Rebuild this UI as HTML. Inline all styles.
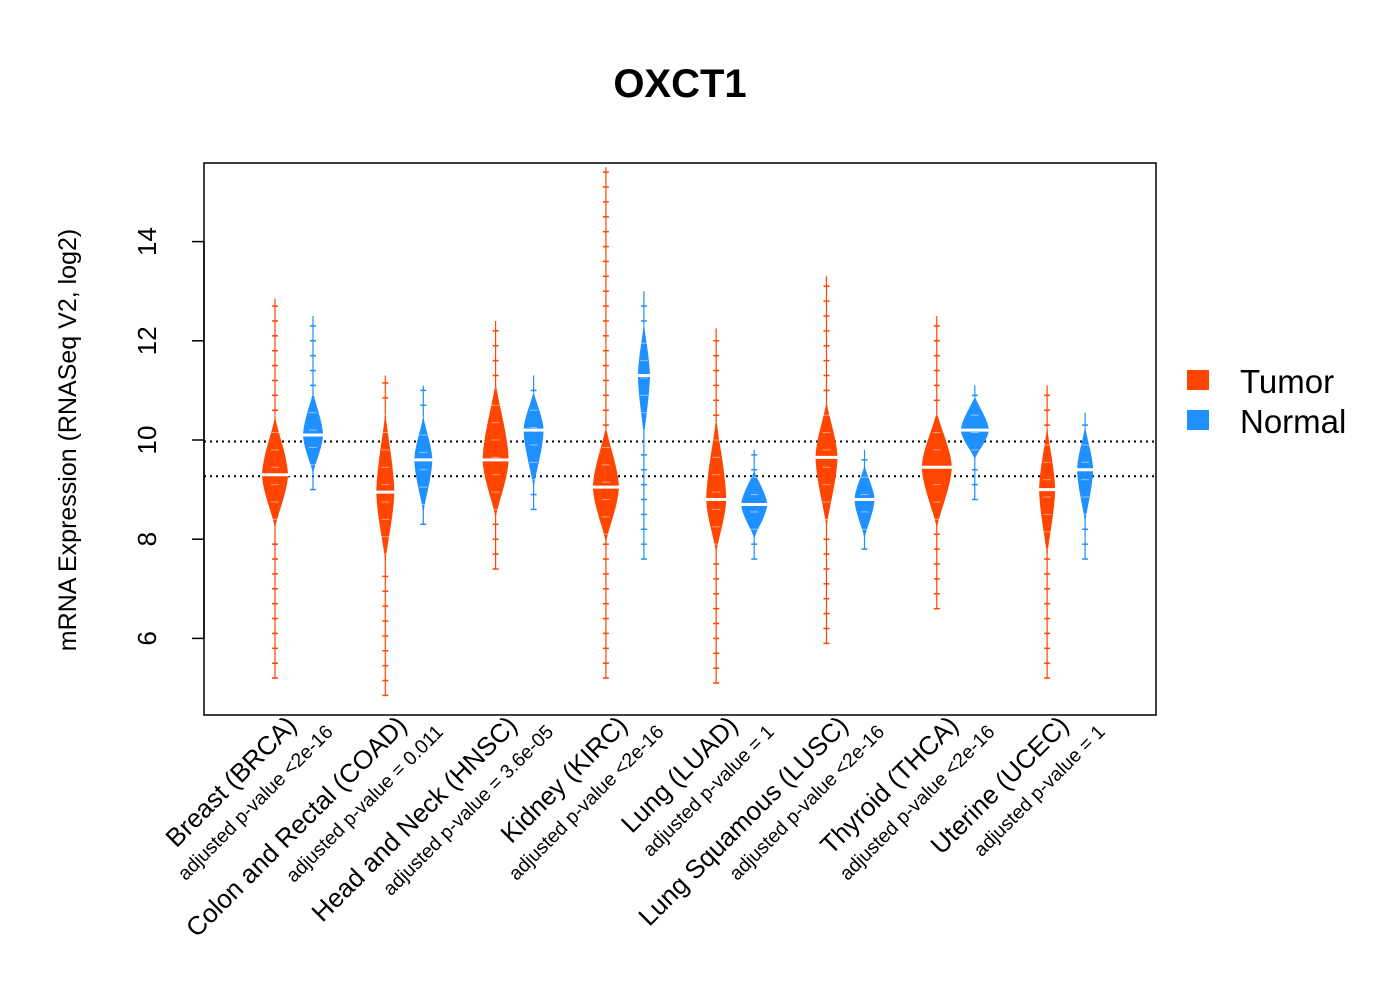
<!DOCTYPE html>
<html><head><meta charset="utf-8"><style>
body{margin:0;background:#fff}
svg{display:block;font-family:"Liberation Sans",Arial,sans-serif}
</style></head><body>
<svg id="chart" width="1400" height="1000">
<text x="680" y="97" text-anchor="middle" font-size="40" font-weight="bold">OXCT1</text>
<rect x="204" y="163" width="952" height="552" fill="none" stroke="#000" stroke-width="1.5"/>
<text transform="translate(76,440) rotate(-90)" text-anchor="middle" font-size="25">mRNA Expression (RNASeq V2, log2)</text>
<g id="yaxis"></g>
<g id="marks"></g>
<g id="xlabels"></g>
<g>
<rect x="1187" y="370" width="22" height="20" fill="#ff4500"/>
<text x="1240" y="393" font-size="33">Tumor</text>
<rect x="1187" y="410" width="22" height="20" fill="#1e90ff"/>
<text x="1240" y="433" font-size="33">Normal</text>
</g>
</svg>
<script>
const categories=["Breast (BRCA)","Colon and Rectal (COAD)","Head and Neck (HNSC)","Kidney (KIRC)","Lung (LUAD)","Lung Squamous (LUSC)","Thyroid (THCA)","Uterine (UCEC)"];
const pvalues=["adjusted p-value <2e-16","adjusted p-value = 0.011","adjusted p-value = 3.6e-05","adjusted p-value <2e-16","adjusted p-value = 1","adjusted p-value <2e-16","adjusted p-value <2e-16","adjusted p-value = 1"];
const tumorMin=[5.2,4.85,7.4,5.2,5.1,5.9,6.6,5.2];
const tumorMax=[12.85,11.3,12.4,15.5,12.25,13.3,12.5,11.1];
const tumorLo=[8.2,7.5,8.4,7.9,7.7,8.2,8.2,7.6];
const tumorHi=[10.5,10.6,11.2,10.3,10.5,10.8,10.6,10.3];
const tumorMed=[9.3,8.95,9.6,9.05,8.8,9.65,9.45,9.0];
const tumorWidth=[13,9,13,13,10,11,15,8];
const normalMin=[9.0,8.3,8.6,7.6,7.6,7.8,8.8,7.6];
const normalMax=[12.5,11.1,11.3,13.0,9.8,9.8,11.1,10.55];
const normalLo=[9.3,8.5,9.0,10.0,8.0,8.0,9.6,8.3];
const normalHi=[11.0,10.5,11.0,12.4,9.4,9.5,10.9,10.3];
const normalMed=[10.1,9.6,10.2,11.3,8.7,8.8,10.2,9.4];
const normalWidth=[10,9,10,6,13,10,14,8];
const refLines=[9.97,9.27];
const yTicks=[6,8,10,12,14];

const NS="http://www.w3.org/2000/svg";
const y=v=>440-(v-10)*49.6;
const xg=i=>294+i*110.3;
function mk(tag,attrs,parent){const e=document.createElementNS(NS,tag);for(const k in attrs)e.setAttribute(k,attrs[k]);parent.appendChild(e);return e;}
const yax=document.getElementById('yaxis'),marks=document.getElementById('marks'),xl=document.getElementById('xlabels');
mk('line',{x1:204,x2:204,y1:y(yTicks[0]),y2:y(yTicks[yTicks.length-1]),stroke:'#000','stroke-width':1.5},yax);
yTicks.forEach(t=>{
  const l=mk('line',{x1:192,x2:204,y1:y(t),y2:y(t),stroke:'#000','stroke-width':1.5},yax);
  
  
  const tx=mk('text',{transform:`translate(156,${y(t)}) rotate(-90)`,'text-anchor':'middle','font-size':26},yax);
  tx.textContent=t;
  
  
});
refLines.forEach(r=>{
  const l=mk('line',{x1:204,x2:1156,y1:y(r),y2:y(r),stroke:'#000','stroke-width':2,'stroke-dasharray':'2,4'},marks);
  
  
});
function prof(t){return Math.pow(Math.max(0,1-Math.pow(t,1.6)),1.4);}
function bean(cx,mn,mx,lo,hi,med,hw,col,name){
  const g=mk('g',{},marks);
  
  
  mk('line',{x1:cx,x2:cx,y1:y(mn),y2:y(mx),stroke:col,'stroke-width':1.2},g);
  const pts=[];const N=40;
  for(let k=0;k<=N;k++){const v=lo+(hi-lo)*k/N;const t=v<med?(med-v)/(med-lo):(v-med)/(hi-med);pts.push([cx+hw*prof(t),y(v)]);}
  for(let k=N;k>=0;k--){const v=lo+(hi-lo)*k/N;const t=v<med?(med-v)/(med-lo):(v-med)/(hi-med);pts.push([cx-hw*prof(t),y(v)]);}
  mk('polygon',{points:pts.map(p=>p.join(',')).join(' '),fill:col},g);
  for(let v=mn;v<=mx;v+=0.3){ if(v<lo||v>hi) mk('line',{x1:cx-3,x2:cx+3,y1:y(v),y2:y(v),stroke:col,'stroke-width':1.5},g);}
  for(let v=lo+0.2;v<hi;v+=0.35){ mk('line',{x1:cx-4,x2:cx+4,y1:y(v),y2:y(v),stroke:'#fff','stroke-width':1,opacity:0.5},g);}
  mk('line',{x1:cx-hw-2,x2:cx+hw+2,y1:y(med),y2:y(med),stroke:'#fff','stroke-width':3},g);
}
categories.forEach((c,i)=>{
  const cx=xg(i);
  bean(cx-19,tumorMin[i],tumorMax[i],tumorLo[i],tumorHi[i],tumorMed[i],tumorWidth[i],'#ff4500','tumor-bean');
  bean(cx+19,normalMin[i],normalMax[i],normalLo[i],normalHi[i],normalMed[i],normalWidth[i],'#1e90ff','normal-bean');
  const t=mk('text',{transform:`translate(${cx+4},727) rotate(-45)`,'text-anchor':'end','font-size':26},xl);
  t.textContent=c;
  
  
  const p=mk('text',{transform:`translate(${cx+40},733) rotate(-45)`,'text-anchor':'end','font-size':19.5},xl);
  p.textContent=pvalues[i];
  
  
});
</script>
</body></html>
